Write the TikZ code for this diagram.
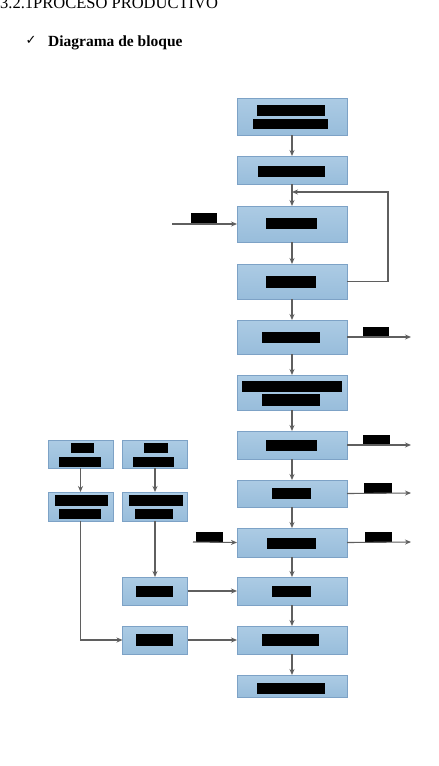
\documentclass[tikz,border=0pt]{standalone}
\usepackage{fontspec}
\setmainfont{Liberation Serif}
\newfontfamily\symfont{DejaVu Sans}
\usetikzlibrary{arrows.meta,positioning}
\definecolor{boxfill}{RGB}{152,189,219}
\definecolor{boxtop}{RGB}{172,203,228}
\definecolor{boxedge}{RGB}{125,162,198}
\definecolor{linec}{RGB}{95,95,95}
\tikzset{
  blk/.style={draw=boxedge,line width=0.7pt,top color=boxtop,bottom color=boxfill,inner sep=0pt,outer sep=0pt},
  mainbox/.style={blk,minimum width=110pt},
  sidebox/.style={blk,minimum width=65pt},
  bar/.style={fill=black,draw=none},
  conn/.style={draw=linec,line width=1.1pt,-{Stealth[length=6pt,width=5pt]}},
  plain/.style={draw=linec,line width=1.1pt}
}
\begin{document}
\begin{tikzpicture}[x=1pt,y=-1pt]
\useasboundingbox (0,0) rectangle (439,766);
\clip (0,0) rectangle (439,766);
\fill[white] (0,0) rectangle (439,766);
% heading
\node[anchor=base west,inner sep=0pt,font=\fontsize{16.5}{17}\selectfont] (title) at (0,8.5) {3.2.1PROCESO PRODUCTIVO};
\node[anchor=base west,inner sep=0pt,font=\symfont\fontsize{13}{14}\selectfont] (chk) at (25.5,44) {✓};
\node[anchor=base west,inner sep=0pt,font=\bfseries\fontsize{15.5}{16}\selectfont] (sub) at (48,46.5) {Diagrama de bloque};
% main column
\node[mainbox,minimum height=37pt] (m1) at (292,116.5) {};
\node[mainbox,minimum height=28pt] (m2) at (292,170) {};
\node[mainbox,minimum height=36pt] (m3) at (292,224) {};
\node[mainbox,minimum height=35pt] (m4) at (292,281.5) {};
\node[mainbox,minimum height=34pt] (m5) at (292,337) {};
\node[mainbox,minimum height=35pt] (m6) at (292,392.5) {};
\node[mainbox,minimum height=28pt] (m7) at (292,445) {};
\node[mainbox,minimum height=27pt] (m8) at (292,493.5) {};
\node[mainbox,minimum height=29pt] (m9) at (292,542.5) {};
\node[mainbox,minimum height=28pt] (m10) at (292,591) {};
\node[mainbox,minimum height=28pt] (m11) at (292,640) {};
\node[mainbox,minimum height=22pt] (m12) at (292,686) {};
% left columns
\node[sidebox,minimum height=28pt] (a1) at (80.5,454) {};
\node[sidebox,minimum height=29pt] (a2) at (80.5,506.5) {};
\node[sidebox,minimum height=28pt] (b1) at (155,454) {};
\node[sidebox,minimum height=29pt] (b2) at (155,506.5) {};
\node[sidebox,minimum height=28pt] (p1) at (155,591) {};
\node[sidebox,minimum height=28pt] (p2) at (155,640) {};
% redaction bars
\fill[bar] (257,105) rectangle (325,116);
\fill[bar] (253,119) rectangle (328,129);
\fill[bar] (258,166) rectangle (325,177);
\fill[bar] (266,218) rectangle (317,229);
\fill[bar] (266,276) rectangle (316,288);
\fill[bar] (262,332) rectangle (320,343);
\fill[bar] (242,381) rectangle (342,392);
\fill[bar] (262,394) rectangle (320,406);
\fill[bar] (266,440) rectangle (317,451);
\fill[bar] (272,488) rectangle (311,499);
\fill[bar] (267,538) rectangle (316,549);
\fill[bar] (272,586) rectangle (311,597);
\fill[bar] (262,634) rectangle (319,646);
\fill[bar] (257,683) rectangle (325,694);
\fill[bar] (71,443) rectangle (94,453);
\fill[bar] (59,457) rectangle (101,467);
\fill[bar] (144,443) rectangle (168,453);
\fill[bar] (133,457) rectangle (174,467);
\fill[bar] (55,495) rectangle (108,506);
\fill[bar] (59,509) rectangle (101,519);
\fill[bar] (129,495) rectangle (183,506);
\fill[bar] (135,509) rectangle (173,519);
\fill[bar] (136,586) rectangle (173,597);
\fill[bar] (136,634) rectangle (173,646);
% side labels on flows
\fill[bar] (191,213) rectangle (217,224);
\fill[bar] (363,327) rectangle (389,338);
\fill[bar] (363,435) rectangle (390,445);
\fill[bar] (364,483) rectangle (392,493);
\fill[bar] (196,532) rectangle (223,542);
\fill[bar] (365,532) rectangle (392,542);
% coordinates for free ends
\coordinate (in3) at (172,224);
\coordinate (in9) at (193,542);
\coordinate (o5) at (411,337);
\coordinate (o7) at (411,445);
\coordinate (o8) at (411,493);
\coordinate (o9) at (411,542);
\coordinate (fbA) at (388,281.5);
\coordinate (fbB) at (388,192);
\coordinate (fbC) at (292,192);
\coordinate (aturn) at (80.5,640);
% main flow
\draw[conn] (m1) -- (m2);
\draw[conn] (m2) -- (m3);
\draw[conn] (m3) -- (m4);
\draw[conn] (m4) -- (m5);
\draw[conn] (m5) -- (m6);
\draw[conn] (m6) -- (m7);
\draw[conn] (m7) -- (m8);
\draw[conn] (m8) -- (m9);
\draw[conn] (m9) -- (m10);
\draw[conn] (m10) -- (m11);
\draw[conn] (m11) -- (m12);
% feedback loop
\draw[conn] (m4.east) -- (fbA) -- (fbB) -- (fbC);
% inputs / outputs
\draw[conn] (in3) -- (m3.west);
\draw[conn] (in9) -- (m9.west);
\draw[conn] (m5.east) -- (o5);
\draw[conn] (m7.east) -- (o7);
\draw[conn] (m8.east) -- (o8);
\draw[conn] (m9.east) -- (o9);
% left branches
\draw[conn] (a1) -- (a2);
\draw[conn] (b1) -- (b2);
\draw[conn] (b2) -- (p1);
\draw[conn] (a2.south) -- (aturn) -- (p2.west);
\draw[conn] (p1) -- (m10);
\draw[conn] (p2) -- (m11);
\end{tikzpicture}
\end{document}
